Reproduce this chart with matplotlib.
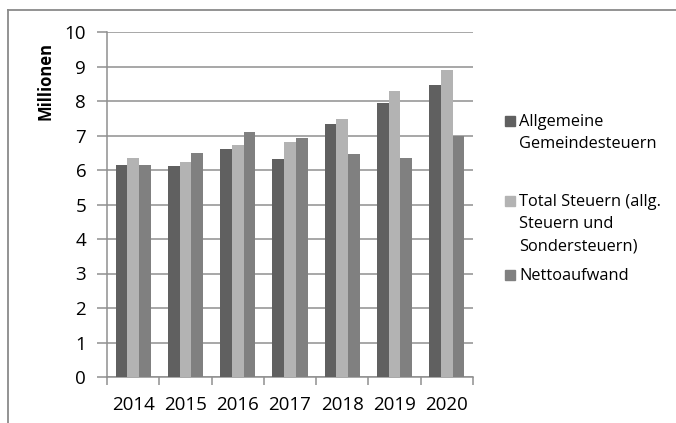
import matplotlib
matplotlib.use("Agg")
import matplotlib.pyplot as plt
import numpy as np
from matplotlib.lines import Line2D
from matplotlib.patches import Rectangle

# values (Millionen)
years = ["2014", "2015", "2016", "2017", "2018", "2019", "2020"]
allgemeine = [6.15, 6.12, 6.60, 6.32, 7.32, 7.93, 8.46]
total_steuern = [6.35, 6.24, 6.72, 6.80, 7.49, 8.29, 8.91]
nettoaufwand = [6.15, 6.49, 7.10, 6.93, 6.47, 6.35, 7.00]

series_labels = [
    "Allgemeine\nGemeindesteuern",
    "Total Steuern (allg.\nSteuern und\nSondersteuern)",
    "Nettoaufwand",
]
colors = ["#606060", "#b3b3b3", "#808080"]

plt.rcParams["font.family"] = ["Open Sans", "DejaVu Sans"]

W, H = 676, 423
fig = plt.figure(figsize=(W / 100, H / 100), dpi=100)
ax = fig.add_axes([107 / W, 1 - 377 / H, (473 - 107) / W, (377 - 32) / H])

x = np.arange(len(years))
bw = 0.224
for i, (vals, c) in enumerate(zip([allgemeine, total_steuern, nettoaufwand], colors)):
    ax.bar(x + (i - 1) * bw, vals, width=bw, color=c, zorder=3)

grid_c = "#8f8f8f"
ax.set_xlim(-0.5, len(years) - 0.5)
ax.set_ylim(0, 10)
ax.set_yticks(range(0, 11))
ax.yaxis.grid(True, color=grid_c, lw=1.1, zorder=0)
ax.set_axisbelow(True)

ax.set_xticks(x)
ax.set_xticklabels(years)
ax.set_xticks(np.arange(-0.5, len(years)), minor=True)
ax.tick_params(axis="x", which="major", length=0, pad=14, labelsize=13.5, colors="#000000")
ax.tick_params(axis="x", which="minor", length=6, width=1.1, color=grid_c, direction="out")
ax.tick_params(axis="y", length=7, width=1.1, color=grid_c, pad=8, labelsize=13.5)

for s in ["top", "right"]:
    ax.spines[s].set_visible(False)
for s in ["left", "bottom"]:
    ax.spines[s].set_color(grid_c)
    ax.spines[s].set_linewidth(1.1)

fig.text(45 / W, 1 - 81 / H, "Millionen", rotation=90, ha="center", va="center",
         fontsize=12, fontweight="bold")

# legend drawn by hand so the marker sits at the first text line
leg_y = [121, 201, 275]
for lab, c, yy in zip(series_labels, colors, leg_y):
    fig.patches.append(Rectangle((505 / W, 1 - (yy + 5) / H), 10 / W, 10 / H,
                                 transform=fig.transFigure, color=c))
    fig.text(519 / W, 1 - (yy - 7) / H, lab, ha="left", va="top",
             fontsize=11.8, linespacing=1.5)

# outer chart frame (only top and left visible in the reference)
fig.add_artist(Line2D([7.5 / W, 1], [1 - 10.5 / H, 1 - 10.5 / H], color="#8a8a8a", lw=1.3,
                      transform=fig.transFigure))
fig.add_artist(Line2D([7.5 / W, 7.5 / W], [0, 1 - 10.5 / H], color="#8a8a8a", lw=1.3,
                      transform=fig.transFigure))

fig.savefig("out.png", dpi=100)
